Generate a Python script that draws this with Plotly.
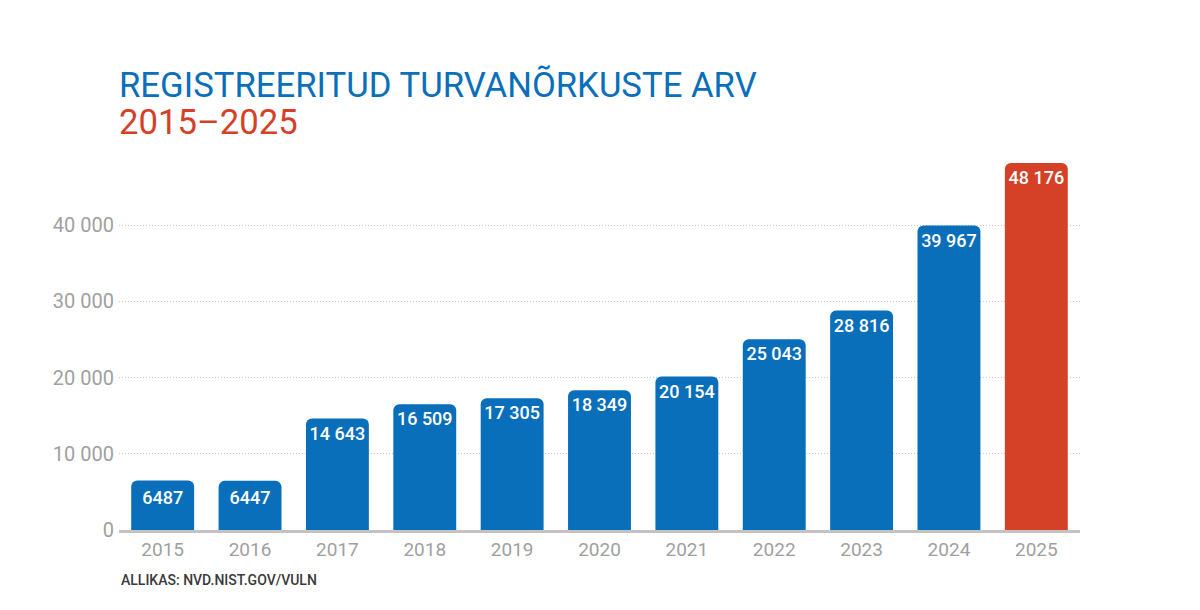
import plotly.graph_objects as go

# data
years = ['2015', '2016', '2017', '2018', '2019', '2020', '2021', '2022', '2023', '2024', '2025']
counts = [6487, 6447, 14643, 16509, 17305, 18349, 20154, 25043, 28816, 39967, 48176]
y_ticks = [0, 10000, 20000, 30000, 40000]

BLUE = '#0a6fba'
RED = '#d44126'


def fmt(v):
    # Estonian style: space only for 5+ digit numbers
    if v >= 10000:
        return f"{v:,}".replace(',', ' ')
    return str(v)


bar_colors = [BLUE] * (len(years) - 1) + [RED]

fig = go.Figure()
fig.add_trace(go.Bar(
    x=years,
    y=counts,
    marker=dict(color=bar_colors, line=dict(width=0), cornerradius=6),
    text=[fmt(v) for v in counts],
    textposition='inside',
    insidetextanchor='end',
    textangle=0,
    textfont=dict(family='Roboto', size=18, color='white', weight=500),
    width=0.72,
    hoverinfo='skip',
))

fig.update_layout(
    width=1200,
    height=610,
    margin=dict(l=111, r=128, t=141, b=88),
    paper_bgcolor='white',
    plot_bgcolor='white',
    showlegend=False,
    font=dict(family='Roboto'),
    uniformtext=dict(minsize=18, mode='show'),
    xaxis=dict(
        showline=True,
        linecolor='#c6c2c2',
        linewidth=3,
        ticks='',
        tickfont=dict(family='Roboto', size=19, color='#9f9f9f'),
        showgrid=False,
    ),
    yaxis=dict(
        range=[0, 50000],
        tickvals=y_ticks,
        ticktext=[fmt(v) for v in y_ticks],
        tickfont=dict(family='Roboto', size=20, color='#a0a0a0'),
        showgrid=True,
        gridcolor='#c8c8c8',
        gridwidth=1,
        griddash='1px,2px',
        zeroline=False,
        ticks='',
        ticklabelstandoff=4,
    ),
)

fig.add_annotation(
    text='REGISTREERITUD TURVANÕRKUSTE ARV',
    xref='paper', yref='paper', x=-0.002, y=1.168,
    xanchor='left', yanchor='middle', showarrow=False,
    font=dict(family='Roboto', size=34.7, color=BLUE),
)
fig.add_annotation(
    text='2015–2025',
    xref='paper', yref='paper', x=-0.002, y=1.071,
    xanchor='left', yanchor='middle', showarrow=False,
    font=dict(family='Roboto', size=34.7, color=RED),
)
fig.add_annotation(
    text='ALLIKAS: NVD.NIST.GOV/VULN',
    xref='paper', yref='paper', x=0.0, y=-0.131,
    xanchor='left', yanchor='middle', showarrow=False,
    font=dict(family='Roboto', size=14, color='#3a3a3a', weight=500),
)

fig.write_html("out.html")
